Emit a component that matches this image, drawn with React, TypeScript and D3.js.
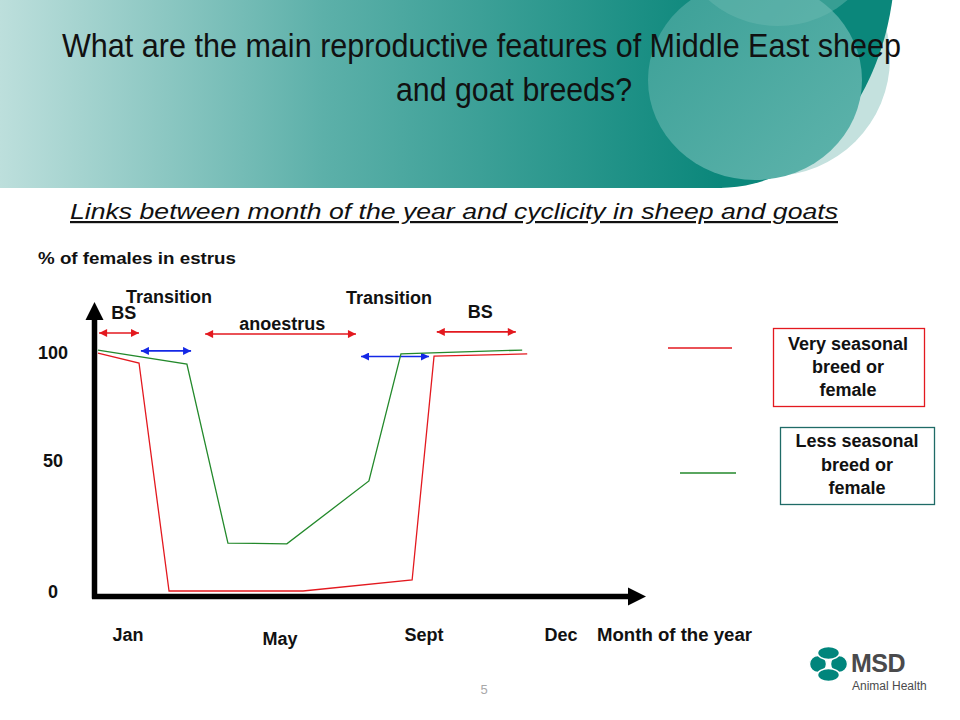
import * as d3 from 'd3'

// month positions (Jan=1 ... Dec=12) and % of females in estrus
const monthTicks = ['Jan', 'May', 'Sept', 'Dec']
const monthTickValues = [1, 5, 9, 12]
const yTicks = [0, 50, 100]

const veryMonths = [0.21, 1.29, 2.08, 5.64, 8.67, 9.22, 11.26]
const veryValues = [99.5, 94.9, 0, 0, 4.2, 98.1, 99.1]

const lessMonths = [0.21, 2.55, 3.63, 5.19, 7.47, 8.36, 11.15]
const lessValues = [100.9, 94.4, 18.3, 18.0, 42, 99.1, 100.9]

// period arrows: from month, to month, level, kind
const periodFrom = [0.24, 1.34, 3.03, 7.25, 9.28]
const periodTo = [1.29, 2.66, 7.11, 9.11, 11.01]
const periodLevel = [108.8, 100.5, 108.3, 97.9, 109.3]
const periodKind = ['bs', 'tr', 'an', 'tr', 'bs']

const labelText = ['BS', 'Transition', 'anoestrus', 'Transition', 'BS']
const labelMonth = [0.89, 2.08, 5.06, 8.03, 10.23]
const labelLevel = [115.3, 122.7, 110.2, 122.2, 115.7]

const FONT = '"Liberation Sans", Arial, Helvetica, sans-serif'
const NARROW = '"Liberation Sans Narrow", "Arial Narrow", "Liberation Sans", sans-serif'
const RED = '#e3191f'
const GREEN = '#23892b'
const BLUE = '#1428e6'

export default function App() {
  const x = d3.scaleLinear().domain(monthTickValues).range([128, 280, 424, 561])
  const y = d3.scaleLinear().domain(yTicks).range([591, 460, 352])

  const line = d3
    .line<[number, number]>()
    .x(d => x(d[0]))
    .y(d => y(d[1]))

  const very = veryMonths.map((m, i) => [m, veryValues[i]] as [number, number])
  const less = lessMonths.map((m, i) => [m, lessValues[i]] as [number, number])

  const axisX = 94.5
  const axisY = 596.5

  return (
    <svg
      width={960}
      height={720}
      style={{ position: 'absolute', left: 0, top: 0, background: '#fff' }}
      fontFamily={FONT}
    >
      <defs>
        <linearGradient id="band" x1="0" x2="720" y1="0" y2="0" gradientUnits="userSpaceOnUse">
          <stop offset="0" stopColor="#bddfdc" />
          <stop offset="0.45" stopColor="#5cb0a9" />
          <stop offset="1" stopColor="#0b877b" />
        </linearGradient>
        <linearGradient id="mid" x1="0" x2="1" y1="0" y2="1">
          <stop offset="0" stopColor="#3a9f96" />
          <stop offset="1" stopColor="#5fb4ac" />
        </linearGradient>
        <clipPath id="hdr">
          <rect x={0} y={0} width={960} height={188} />
        </clipPath>
        {[RED, BLUE].map(c => (
          <marker
            key={c}
            id={`head-${c.slice(1)}`}
            viewBox="0 0 10 10"
            refX={10}
            refY={5}
            markerWidth={9}
            markerHeight={8}
            markerUnits="userSpaceOnUse"
            orient="auto-start-reverse"
          >
            <path d="M0,0 L10,5 L0,10 z" fill={c} />
          </marker>
        ))}
      </defs>

      {/* header */}
      <g clipPath="url(#hdr)">
        <circle cx={772} cy={58} r={118} fill="#c4e1de" />
        <rect x={0} y={0} width={722} height={188} fill="url(#band)" />
        <ellipse cx={720} cy={-40} rx={175} ry={228} fill="url(#band)" />
        <ellipse cx={755} cy={80} rx={107} ry={100} fill="url(#mid)" />
        <circle cx={778} cy={-80} r={106} fill="#6dbab2" fillOpacity={0.45} />
      </g>
      {/* title: condensed, drawn smaller and stretched vertically */}
      <g transform="translate(62,57) scale(1,1.2)">
        <text x={0} y={0} fontSize={28} fontFamily={NARROW} textLength={839} lengthAdjust="spacingAndGlyphs" fill="#111">
          What are the main reproductive features of Middle East sheep
        </text>
      </g>
      <g transform="translate(396,101) scale(1,1.2)">
        <text x={0} y={0} fontSize={28} fontFamily={NARROW} textLength={236} lengthAdjust="spacingAndGlyphs" fill="#111">
          and goat breeds?
        </text>
      </g>

      <text x={70} y={219} fontSize={22} fontStyle="italic" textLength={768} lengthAdjust="spacingAndGlyphs" textDecoration="underline" fill="#111">
        Links between month of the year and cyclicity in sheep and goats
      </text>

      <text x={38} y={264} fontSize={17} fontWeight="bold" textLength={198} lengthAdjust="spacingAndGlyphs" fill="#111">
        % of females in estrus
      </text>

      {/* axes */}
      <line x1={axisX} x2={axisX} y1={axisY + 2} y2={318} stroke="#000" strokeWidth={5.5} />
      <path d={`M${axisX - 9},${320} L${axisX},${302} L${axisX + 9},${320} z`} fill="#000" />
      <line x1={axisX - 2.5} x2={630} y1={axisY} y2={axisY} stroke="#000" strokeWidth={5.5} />
      <path d={`M${628},${axisY - 9} L${646},${axisY} L${628},${axisY + 9} z`} fill="#000" />

      {yTicks.map(t => (
        <text key={t} x={53} y={y(t) + 7} fontSize={18} fontWeight="bold" textAnchor="middle" fill="#111">
          {t}
        </text>
      ))}
      {monthTicks.map((m, i) => (
        <text
          key={m}
          x={x(monthTickValues[i])}
          y={m === 'May' ? 645 : 641}
          fontSize={18}
          fontWeight="bold"
          textAnchor="middle"
          fill="#111"
        >
          {m}
        </text>
      ))}
      <text x={597} y={641} fontSize={18} fontWeight="bold" textLength={155} lengthAdjust="spacingAndGlyphs" fill="#111">
        Month of the year
      </text>

      {/* period arrows and labels */}
      {periodFrom.map((f, i) => {
        const c = periodKind[i] === 'tr' ? BLUE : RED
        return (
          <line
            key={i}
            x1={x(f)}
            x2={x(periodTo[i])}
            y1={y(periodLevel[i])}
            y2={y(periodLevel[i])}
            stroke={c}
            strokeWidth={1.6}
            markerStart={`url(#head-${c.slice(1)})`}
            markerEnd={`url(#head-${c.slice(1)})`}
          />
        )
      })}
      {labelText.map((t, i) => (
        <text key={i} x={x(labelMonth[i])} y={y(labelLevel[i])} fontSize={18} fontWeight="bold" textAnchor="middle" fill="#111">
          {t}
        </text>
      ))}

      {/* series */}
      <path d={line(less) ?? ''} fill="none" stroke={GREEN} strokeWidth={1.3} />
      <path d={line(very) ?? ''} fill="none" stroke={RED} strokeWidth={1.3} />

      {/* legend */}
      <line x1={668} x2={732} y1={348} y2={348} stroke={RED} strokeWidth={1.3} />
      <rect x={773.5} y={328.5} width={151} height={78} fill="none" stroke={RED} strokeWidth={1.3} />
      {['Very seasonal', 'breed or', 'female'].map((t, i) => (
        <text key={t} x={848} y={350 + i * 23} fontSize={18} fontWeight="bold" textAnchor="middle" fill="#111">
          {t}
        </text>
      ))}
      <line x1={680} x2={736} y1={473} y2={473} stroke={GREEN} strokeWidth={1.3} />
      <rect x={780.5} y={427.5} width={154} height={77} fill="none" stroke="#1f6b67" strokeWidth={1.3} />
      {['Less seasonal', 'breed or', 'female'].map((t, i) => (
        <text key={t} x={857} y={447 + i * 23.5} fontSize={18} fontWeight="bold" textAnchor="middle" fill="#111">
          {t}
        </text>
      ))}

      {/* footer */}
      <text x={484} y={694} fontSize={13} textAnchor="middle" fill="#a8a8a8">
        5
      </text>
      <g fill="#00857c" stroke="#fff" strokeWidth={1.4}>
        <circle cx={818} cy={664} r={8.5} />
        <circle cx={839} cy={664} r={8.5} />
        <ellipse cx={828.5} cy={653} rx={11} ry={6.5} />
        <ellipse cx={828.5} cy={675} rx={11} ry={6.5} />
      </g>
      <text x={851} y={672} fontSize={25} fontWeight="bold" fill="#4a4a4c" letterSpacing={-0.5}>
        MSD
      </text>
      <text x={852} y={690} fontSize={12} fill="#4a4a4c">
        Animal Health
      </text>
    </svg>
  )
}
